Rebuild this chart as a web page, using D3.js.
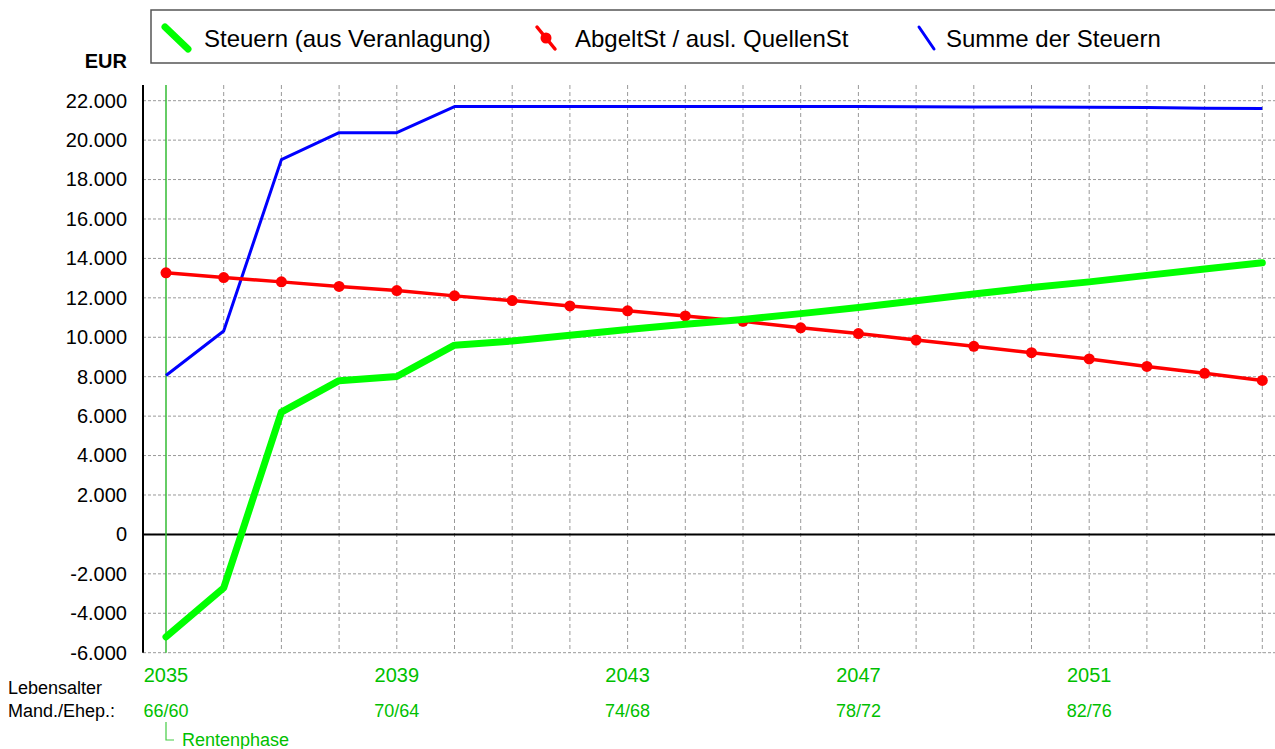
<!DOCTYPE html>
<html><head><meta charset="utf-8">
<script src="https://cdn.jsdelivr.net/npm/d3@7"></script>
<style>
html,body{margin:0;padding:0;background:#fff;}
svg{display:block;font-family:"Liberation Sans",Arial,sans-serif;}
</style></head>
<body>
<svg id="chart" width="1275" height="749"></svg>
<script>
const years = [2035,2036,2037,2038,2039,2040,2041,2042,2043,2044,2045,2046,2047,2048,2049,2050,2051,2052,2053,2054];
const steuernVeranlagung = [-5200,-2710,6200,7800,8010,9600,9810,10100,10390,10660,10900,11200,11510,11850,12190,12520,12810,13140,13460,13780];
const abgeltSt = [13270,13030,12810,12580,12370,12100,11860,11590,11340,11080,10810,10480,10190,9860,9540,9220,8900,8520,8170,7810];
const summeSteuern = [8060,10320,19010,20380,20380,21700,21700,21700,21700,21700,21700,21700,21700,21690,21680,21680,21670,21650,21620,21600];
const yTicks = [-6000,-4000,-2000,0,2000,4000,6000,8000,10000,12000,14000,16000,18000,20000,22000];
const yearLabels = [2035,2039,2043,2047,2051];
const ageLabels = ["66/60","70/64","74/68","78/72","82/76"];
const legendNames = ["Steuern (aus Veranlagung)","AbgeltSt / ausl. QuellenSt","Summe der Steuern"];

const svg = d3.select("#chart");
const W = 1275;
const x = d3.scaleLinear().domain([2035,2054]).range([166,1262.3]);
const y = d3.scaleLinear().domain([-6000,22000]).range([652.7,100.7]);
const axisX = 143, plotTop = 85, plotBottom = y(-6000);

const fmt = v => d3.format(",")(v).replace(/,/g,".").replace(/\u2212/g,"-");

// horizontal grid
svg.append("g").selectAll("line").data(yTicks).join("line")
  .attr("x1",axisX).attr("x2",W).attr("y1",d=>y(d)).attr("y2",d=>y(d))
  .attr("stroke","#999").attr("stroke-width",1).attr("stroke-dasharray","3,2");
// vertical grid
svg.append("g").selectAll("line").data(years.slice(1)).join("line")
  .attr("x1",d=>x(d)).attr("x2",d=>x(d)).attr("y1",plotTop).attr("y2",plotBottom)
  .attr("stroke","#999").attr("stroke-width",1).attr("stroke-dasharray","4,3");

// y axis via d3.axisLeft
const yAxis = svg.append("g").attr("transform",`translate(${axisX},0)`)
  .call(d3.axisLeft(y).tickValues(yTicks).tickFormat(fmt).tickSize(0).tickPadding(16));
yAxis.select(".domain").remove();
yAxis.selectAll("text").attr("font-size",20).attr("fill","#000").attr("font-family","Liberation Sans, Arial, sans-serif");
svg.append("line").attr("x1",axisX).attr("x2",axisX).attr("y1",plotTop).attr("y2",plotBottom)
  .attr("stroke","#000").attr("stroke-width",2);
// zero line
svg.append("line").attr("x1",axisX).attr("x2",W).attr("y1",y(0)).attr("y2",y(0))
  .attr("stroke","#000").attr("stroke-width",2);
// Rentenphase vertical line
svg.append("line").attr("x1",x(2035)).attr("x2",x(2035)).attr("y1",plotTop).attr("y2",plotBottom)
  .attr("stroke","#33bb33").attr("stroke-width",1.5);

svg.append("text").attr("x",127).attr("y",68).attr("text-anchor","end")
  .attr("font-size",20).attr("font-weight","bold").text("EUR");

// lines
const line = d3.line().x((d,i)=>x(years[i])).y(d=>y(d));
svg.append("path").datum(summeSteuern).attr("d",line).attr("fill","none")
  .attr("stroke","#0000ff").attr("stroke-width",3).attr("stroke-linejoin","round");
svg.append("path").datum(abgeltSt).attr("d",line).attr("fill","none")
  .attr("stroke","#ff0000").attr("stroke-width",3.5).attr("stroke-linejoin","round");
svg.append("g").selectAll("circle").data(abgeltSt).join("circle")
  .attr("cx",(d,i)=>x(years[i])).attr("cy",d=>y(d)).attr("r",5.5).attr("fill","#ff0000");
svg.append("path").datum(steuernVeranlagung).attr("d",line).attr("fill","none")
  .attr("stroke","#00ff00").attr("stroke-width",7).attr("stroke-linejoin","round").attr("stroke-linecap","round");

// x labels
const green = "#00c000";
svg.append("g").selectAll("text").data(yearLabels).join("text")
  .attr("x",d=>x(d)).attr("y",682).attr("text-anchor","middle").attr("font-size",20)
  .attr("fill",green).text(d=>d);
svg.append("g").selectAll("text").data(ageLabels).join("text")
  .attr("x",(d,i)=>x(yearLabels[i])).attr("y",717).attr("text-anchor","middle").attr("font-size",18)
  .attr("fill",green).text(d=>d);
svg.append("text").attr("x",8).attr("y",694).attr("font-size",18).text("Lebensalter");
svg.append("text").attr("x",8).attr("y",717).attr("font-size",18).text("Mand./Ehep.:");
svg.append("path").attr("d",`M${x(2035)},722V740H174`).attr("fill","none")
  .attr("stroke","#44cc44").attr("stroke-width",1.2);
svg.append("text").attr("x",182).attr("y",746).attr("font-size",18).attr("fill",green).text("Rentenphase");

// legend
const lg = svg.append("g");
lg.append("rect").attr("x",151).attr("y",10).attr("width",1140).attr("height",53)
  .attr("fill","#fff").attr("stroke","#555").attr("stroke-width",1.5);
const leg = [
  {x:165, tx:204, color:"#00ff00", w:7, dot:false, x2:188},
  {x:537, tx:575, color:"#ff0000", w:3.5, dot:true, x2:555},
  {x:919, tx:946, color:"#0000ff", w:3, dot:false, x2:934}
];
leg.forEach((l,i)=>{
  lg.append("line").attr("x1",l.x).attr("y1",27).attr("x2",l.x2).attr("y2",49)
    .attr("stroke",l.color).attr("stroke-width",l.w).attr("stroke-linecap","round");
  if(l.dot) lg.append("circle").attr("cx",(l.x+l.x2)/2).attr("cy",38).attr("r",5.5).attr("fill",l.color);
  lg.append("text").attr("x",l.tx).attr("y",47).attr("font-size",24).text(legendNames[i]);
});
</script>
</body></html>
